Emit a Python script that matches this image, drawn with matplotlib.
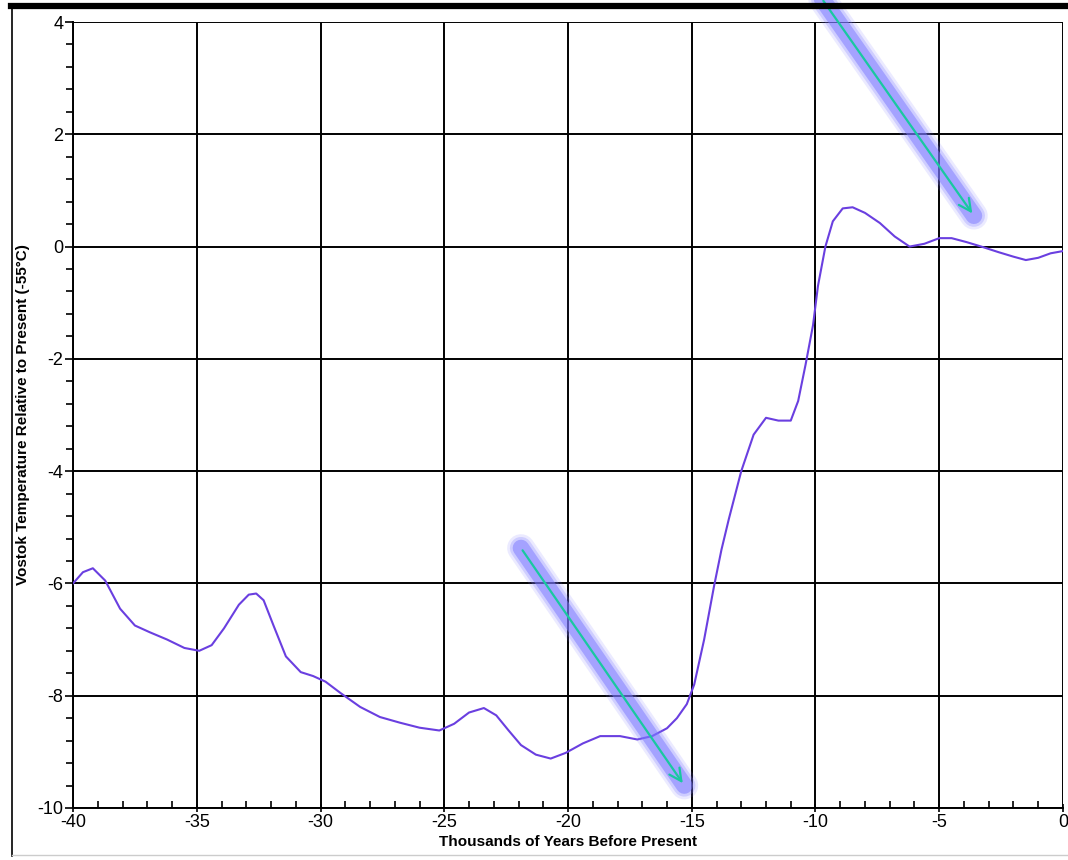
import numpy as np
import matplotlib
matplotlib.use('Agg')
import matplotlib.pyplot as plt
from matplotlib.lines import Line2D
from matplotlib.ticker import MultipleLocator

plt.rcParams['font.family'] = ['Liberation Sans', 'DejaVu Sans']
plt.rcParams['axes.unicode_minus'] = False

# Vostok temperature (relative to present), thousands of years before present
years = [-40.0, -39.6, -39.2, -38.7, -38.1, -37.5, -36.9, -36.2, -35.5, -34.9,
         -34.4, -33.9, -33.3, -32.9, -32.6, -32.3, -31.9, -31.4, -30.8, -30.3, -29.8,
         -29.2, -28.4, -27.6, -26.8, -26.0, -25.2, -24.6, -24.0, -23.4, -22.9,
         -22.4, -21.9, -21.3, -20.7, -20.1, -19.4, -18.7, -17.9, -17.2, -16.6,
         -16.0, -15.6, -15.2, -14.9, -14.5, -14.1, -13.8, -13.5, -13.0, -12.5,
         -12.0, -11.5, -11.0, -10.7, -10.4, -10.1, -9.9, -9.6, -9.3, -8.9,
         -8.5, -8.0, -7.4, -6.8, -6.2, -5.6, -5.0, -4.5, -3.9, -3.3,
         -2.6, -2.0, -1.5, -1.0, -0.5, 0.0]
temps = [-6.00, -5.80, -5.73, -5.95, -6.45, -6.75, -6.87, -7.00, -7.15, -7.20,
         -7.10, -6.80, -6.38, -6.20, -6.18, -6.30, -6.75, -7.30, -7.58, -7.65, -7.75,
         -7.95, -8.20, -8.38, -8.48, -8.57, -8.62, -8.50, -8.30, -8.22, -8.35,
         -8.62, -8.88, -9.05, -9.12, -9.02, -8.85, -8.72, -8.72, -8.78, -8.72,
         -8.58, -8.40, -8.15, -7.80, -7.00, -6.05, -5.40, -4.85, -4.00, -3.35,
         -3.05, -3.10, -3.10, -2.75, -2.10, -1.40, -0.70, 0.00, 0.45, 0.68,
         0.70, 0.60, 0.42, 0.18, 0.00, 0.05, 0.15, 0.15, 0.08, 0.00,
         -0.10, -0.18, -0.24, -0.20, -0.12, -0.08]

# arrows: (start, end) in data coords
arrow_low = ((-21.9, -5.37), (-15.3, -9.6))
arrow_high = ((-9.75, 4.42), (-3.6, 0.55))

fig = plt.figure(figsize=(10.68, 8.6), dpi=100)
ax = fig.add_axes([0.0684, 0.0605, 0.9269, 0.9139])

ax.plot(years, temps, color='#6a3fe0', lw=1.5, zorder=3)

ax.set_xlim(-40, 0)
ax.set_ylim(-10, 4)
ax.xaxis.set_major_locator(MultipleLocator(5))
ax.xaxis.set_minor_locator(MultipleLocator(1))
ax.yaxis.set_major_locator(MultipleLocator(2))
ax.yaxis.set_minor_locator(MultipleLocator(0.4))
ax.grid(True, which='major', color='black', lw=1.4, zorder=1)
ax.set_axisbelow(True)

ax.tick_params(axis='y', which='major', direction='out', length=6, width=1.2,
               labelsize=13, pad=1)
ax.tick_params(axis='y', which='minor', direction='out', length=5, width=1.2)
ax.tick_params(axis='x', which='major', direction='inout', length=6, width=1.2,
               labelsize=13, pad=1)
ax.tick_params(axis='x', which='minor', direction='in', length=5, width=1.2)

for side in ['top', 'right']:
    ax.spines[side].set_visible(False)
for side in ['left', 'bottom']:
    ax.spines[side].set_linewidth(1.4)

ax.set_xlabel('Thousands of Years Before Present', fontsize=11,
              fontweight='bold', labelpad=3)
ax.set_ylabel('Vostok Temperature Relative to Present (-55\u00b0C)', fontsize=11,
              fontweight='bold', labelpad=5)

# glowing arrows
for (x0, y0), (x1, y1) in [arrow_low, arrow_high]:
    for w, a in [(20, 0.15), (16, 0.25), (12, 0.5)]:
        ax.plot([x0, x1], [y0, y1], color='#7b78ff', lw=w, alpha=a,
                solid_capstyle='round', zorder=4, clip_on=False)
    ax.annotate('', xy=(x1, y1), xytext=(x0, y0), annotation_clip=False,
                arrowprops=dict(arrowstyle='->', color='#19c8a0', lw=1.6,
                                mutation_scale=22), zorder=5)

# page frame lines
fig.add_artist(Line2D([0.010, 1.0], [0.9925, 0.9925], color='black', lw=4.5))
fig.add_artist(Line2D([0.0115, 0.0115], [0.005, 0.995], color='black', lw=1.2))
fig.add_artist(Line2D([0.0115, 1.0], [0.006, 0.006], color='#cccccc', lw=1.0))

fig.savefig('out.png', dpi=100, facecolor='white')
